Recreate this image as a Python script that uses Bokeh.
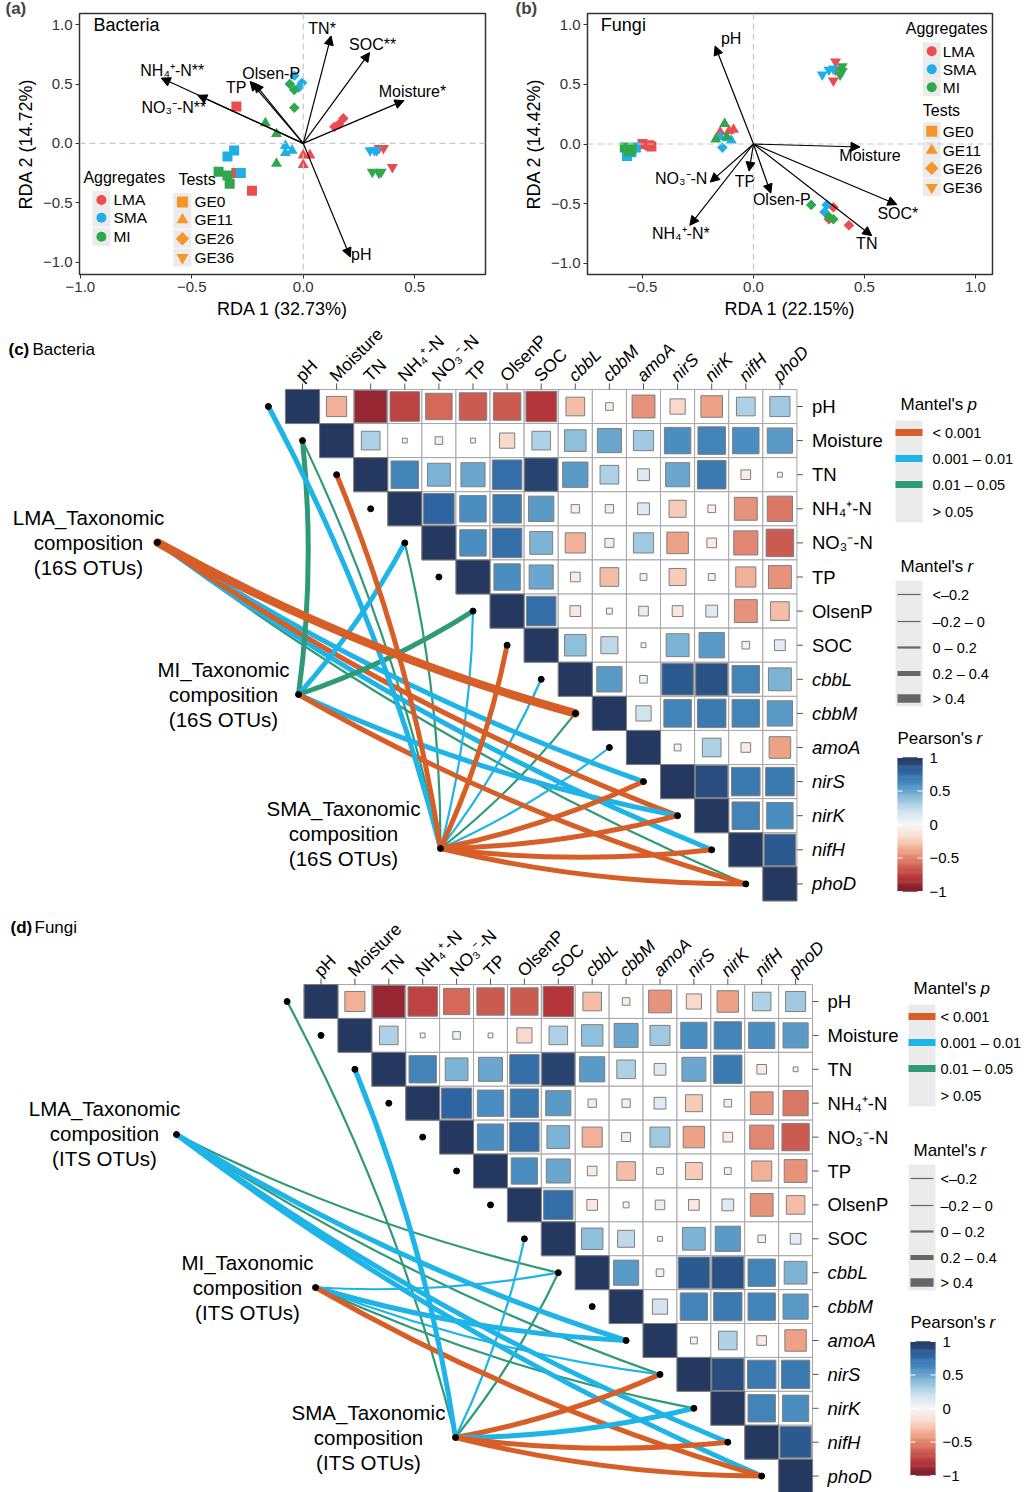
import numpy as np
from bokeh.plotting import figure
from bokeh.models import (ColumnDataSource, Range1d, Arrow, NormalHead,
                          LinearColorMapper, FixedTicker, Span)
from bokeh.layouts import column, row
from bokeh.transform import transform, factor_cmap, factor_mark
from bokeh.core.properties import value
from bokeh.embed import file_html
from bokeh.resources import INLINE

FONT = "Liberation Sans"

# ======================= DATA =======================
aggregates = ["LMA", "SMA", "MI"]
tests = ["GE0", "GE11", "GE26", "GE36"]
rda_agg = ["LMA"] * 12 + ["SMA"] * 12 + ["MI"] * 12
rda_test = (["GE0"] * 3 + ["GE11"] * 3 + ["GE26"] * 3 + ["GE36"] * 3) * 3

# (a) Bacteria RDA site scores
bac_x = [-0.30, -0.30, -0.23, 0.00, 0.03, 0.00, 0.14, 0.16, 0.18, 0.34, 0.36, 0.40,
         -0.31, -0.34, -0.28, -0.08, -0.08, -0.05, -0.04, -0.02, -0.005, 0.30, 0.32, 0.33,
         -0.38, -0.34, -0.33, -0.17, -0.12, -0.12, -0.06, -0.04, -0.04, 0.31, 0.34, 0.35]
bac_y = [0.31, -0.25, -0.40, -0.10, -0.10, -0.18, 0.14, 0.16, 0.21, -0.04, -0.04, -0.20,
         -0.06, -0.11, -0.25, -0.02, -0.08, -0.06, 0.57, 0.47, 0.51, -0.06, -0.06, -0.06,
         -0.24, -0.27, -0.34, 0.17, 0.08, -0.17, 0.50, 0.45, 0.30, -0.24, -0.25, -0.24]
bac_env_labels = ["TN*", "SOC**", "Moisture*", "pH", "NH₄⁺-N**", "NO₃⁻-N**", "TP", "Olsen-P"]
bac_env_x = [0.125, 0.298, 0.452, 0.211, -0.637, -0.473, -0.238, -0.220]
bac_env_y = [0.905, 0.765, 0.360, -0.958, 0.550, 0.405, 0.522, 0.508]

# (b) Fungi RDA site scores
fun_x = [-0.50, -0.47, -0.46, -0.15, -0.11, -0.09, 0.36, 0.34, 0.43, 0.37, 0.36, 0.37,
         -0.57, -0.53, -0.55, -0.15, -0.10, -0.12, -0.14, 0.33, 0.32, 0.31, 0.34, 0.36,
         -0.58, -0.56, -0.55, -0.13, -0.17, -0.12, 0.26, 0.34, 0.36, 0.40, 0.40, 0.39]
fun_y = [0.00, -0.01, -0.02, 0.10, 0.11, 0.12, -0.53, -0.63, -0.68, 0.69, 0.53, 0.62,
         -0.10, -0.03, -0.07, 0.06, 0.03, 0.05, -0.03, -0.51, -0.57, 0.58, 0.62, 0.63,
         -0.03, -0.06, -0.04, 0.17, 0.04, 0.06, -0.51, -0.61, -0.63, 0.65, 0.61, 0.58]
fun_env_labels = ["pH", "Moisture", "SOC*", "TN", "Olsen-P", "TP", "NO₃⁻-N", "NH₄⁺-N*"]
fun_env_x = [-0.173, 0.480, 0.646, 0.533, 0.078, -0.020, -0.195, -0.287]
fun_env_y = [0.821, -0.025, -0.507, -0.768, -0.412, -0.227, -0.319, -0.681]

# Pearson's r among environmental factors / genes (upper triangle, row by row)
env_vars = ["pH", "Moisture", "TN", "NH4", "NO3", "TP", "OlsenP", "SOC",
            "cbbL", "cbbM", "amoA", "nirS", "nirK", "nifH", "phoD"]
env_labels = ["pH", "Moisture", "TN", "NH₄⁺-N", "NO₃⁻-N", "TP", "OlsenP", "SOC",
              "cbbL", "cbbM", "amoA", "nirS", "nirK", "nifH", "phoD"]
r_pH = [-0.35, -0.90, -0.75, -0.60, -0.65, -0.65, -0.80, -0.30, -0.05, -0.45, -0.20, -0.40, 0.30, 0.35]
r_Moisture = [0.30, 0.02, 0.05, 0.02, -0.20, 0.30, 0.40, 0.50, 0.35, 0.60, 0.65, 0.60, 0.55]
r_TN = [0.65, 0.45, 0.50, 0.75, 0.95, 0.55, 0.30, 0.12, 0.50, 0.70, -0.08, 0.02]
r_NH4 = [0.80, 0.60, 0.70, 0.55, -0.06, 0.06, 0.12, -0.25, -0.05, -0.45, -0.55]
r_NO3 = [0.60, 0.75, 0.45, -0.35, 0.07, 0.35, -0.40, -0.08, -0.50, -0.65]
r_TP = [0.60, 0.50, -0.08, -0.30, 0.04, -0.25, -0.04, -0.35, -0.45]
r_OlsenP = [0.75, -0.10, -0.03, 0.08, -0.10, 0.12, -0.45, -0.30]
r_SOC = [0.40, 0.25, 0.02, 0.45, 0.55, 0.05, 0.10]
r_cbbL = [0.55, 0.05, 0.85, 0.88, 0.65, 0.45]
r_cbbM = [0.20, 0.65, 0.70, 0.65, 0.55]
r_amoA = [0.04, 0.30, -0.08, -0.40]
r_nirS = [0.90, 0.70, 0.70]
r_nirK = [0.65, 0.60]
r_nifH = [0.85]
r_rows = [r_pH, r_Moisture, r_TN, r_NH4, r_NO3, r_TP, r_OlsenP, r_SOC,
          r_cbbL, r_cbbM, r_amoA, r_nirS, r_nirK, r_nifH, []]

# Mantel tests (c) Bacteria
bac_mantel_spec = ["LMA", "LMA", "LMA", "LMA", "LMA",
                   "MI", "MI", "MI", "MI", "MI",
                   "SMA", "SMA", "SMA", "SMA", "SMA", "SMA", "SMA", "SMA", "SMA", "SMA", "SMA", "SMA", "SMA"]
bac_mantel_env = ["cbbM", "nirS", "nifH", "phoD", "nirK",
                  "Moisture", "NO3", "OlsenP", "nirK", "phoD",
                  "pH", "Moisture", "TN", "NO3", "OlsenP", "SOC", "cbbL", "cbbM", "amoA", "nirS", "nirK", "nifH", "phoD"]
bac_mantel_r = [0.48, 0.30, 0.32, 0.12, 0.25,
                0.30, 0.28, 0.30, 0.26, 0.30,
                0.30, 0.15, 0.33, 0.12, 0.14, 0.34, 0.12, 0.13, 0.11, 0.35, 0.36, 0.34, 0.35]
bac_mantel_p = [0.0005, 0.005, 0.005, 0.03, 0.0008,
                0.02, 0.005, 0.02, 0.005, 0.0005,
                0.004, 0.03, 0.0005, 0.03, 0.006, 0.0005, 0.007, 0.03, 0.008, 0.0005, 0.0005, 0.0005, 0.0005]

# Mantel tests (d) Fungi
fun_mantel_spec = ["LMA", "LMA", "LMA", "LMA", "LMA",
                   "MI", "MI", "MI", "MI", "MI",
                   "SMA", "SMA", "SMA", "SMA", "SMA", "SMA", "SMA", "SMA"]
fun_mantel_env = ["cbbL", "amoA", "nirS", "nifH", "phoD",
                  "cbbL", "amoA", "nirS", "nirK", "phoD",
                  "pH", "TN", "SOC", "cbbL", "nirS", "nirK", "nifH", "phoD"]
fun_mantel_r = [0.12, 0.30, 0.13, 0.30, 0.31,
                0.14, 0.30, 0.15, 0.12, 0.30,
                0.13, 0.30, 0.15, 0.12, 0.32, 0.30, 0.33, 0.34]
fun_mantel_p = [0.02, 0.004, 0.03, 0.005, 0.004,
                0.007, 0.003, 0.008, 0.03, 0.0005,
                0.03, 0.004, 0.006, 0.03, 0.0005, 0.004, 0.0005, 0.0005]

# ======================= STYLE =======================
AGG_COLORS = ["#EC4B4F", "#1FAFE6", "#2FA84C"]
TEST_ORANGE = "#F5962C"
MARKERS = ["square", "triangle", "square", "inverted_triangle"]
MARKER_SIZE = {"GE0": 10, "GE11": 11, "GE26": 7.5, "GE36": 11}
LEGEND_SIZE = {"GE0": 11, "GE11": 12, "GE26": 9.5, "GE36": 12}
MARKER_ANGLE = {"GE0": 0.0, "GE11": 0.0, "GE26": np.pi / 4, "GE36": 0.0}
P_COLORS = ["#D75F27", "#1FB4E8", "#2E9A77"]
P_LABELS = ["< 0.001", "0.001 – 0.01", "0.01 – 0.05", "> 0.05"]
R_LABELS = ["<–0.2", "–0.2 – 0", "0 – 0.2", "0.2 – 0.4", "> 0.4"]
R_WIDTHS = [1.2, 1.2, 2.2, 5.0, 8.5]
KEY_BG = "#EBEBEB"
CURV = 0.06

anchors = ["#7A1A2A", "#B5363A", "#D4695A", "#EEA286", "#F9D9C9", "#F7F7F7",
           "#D0E3EE", "#8FC0DC", "#4A8EC1", "#2D65A2", "#25385F"]


def _rgb(h):
    return tuple(int(h[i:i + 2], 16) for i in (1, 3, 5))


palette = []
for k in range(256):
    t = k / 255 * 10
    i = min(int(t), 9)
    f = t - i
    a, b = _rgb(anchors[i]), _rgb(anchors[i + 1])
    palette.append("#%02x%02x%02x" % tuple(int(round(a[j] + (b[j] - a[j]) * f)) for j in range(3)))
mapper = LinearColorMapper(palette=palette, low=-1, high=1)


def p_bin(pv):
    return 0 if pv < 0.001 else (1 if pv < 0.01 else (2 if pv < 0.05 else 3))


def r_bin(rv):
    return 0 if rv < -0.2 else (1 if rv < 0 else (2 if rv < 0.2 else (3 if rv < 0.4 else 4)))


# ======================= RDA PANELS =======================
def rda_panel(letter, letter_x, taxon, xs, ys, env_lab, env_x, env_y, lab_dx, lab_dy, geo, leg,
              xlabel, ylabel, xticks):
    (fig_w, ox, oy, sx, sy, xr, yr, borders) = geo
    p = figure(width=fig_w, height=324, x_range=Range1d(*xr), y_range=Range1d(*yr),
               output_backend="svg", toolbar_location=None,
               min_border_left=borders[0], min_border_right=borders[1],
               min_border_top=borders[2], min_border_bottom=borders[3])
    px = lambda v: (v - ox) / sx
    py = lambda v: (oy - v) / sy
    p.title.text = letter
    p.title.align = "left"
    p.title.offset = letter_x - borders[0]
    p.title.standoff = -9
    p.title.text_font = FONT
    p.title.text_font_size = "17px"
    p.title.text_font_style = "bold"
    p.xgrid.visible = False
    p.ygrid.visible = False
    p.outline_line_color = "#333333"
    p.outline_line_width = 1.5
    p.background_fill_color = "white"
    for ax in (p.xaxis[0], p.yaxis[0]):
        ax.axis_line_color = None
        ax.major_tick_line_color = "#333333"
        ax.major_tick_out = 4
        ax.major_tick_in = 0
        ax.minor_tick_line_color = None
        ax.major_label_text_font = FONT
        ax.major_label_text_font_size = "15px"
        ax.major_label_text_color = "#333333"
        ax.axis_label_text_font = FONT
        ax.axis_label_text_font_size = "18px"
        ax.axis_label_text_font_style = "normal"
        ax.axis_label_text_color = "black"
        ax.major_label_standoff = 3
        ax.axis_label_standoff = 4
    p.xaxis.ticker = FixedTicker(ticks=xticks)
    p.yaxis.ticker = FixedTicker(ticks=[-1.0, -0.5, 0.0, 0.5, 1.0])
    fmt = lambda v: ("%.1f" % v).replace("-", "−")
    p.xaxis.major_label_overrides = {float(v): fmt(v) for v in xticks}
    p.yaxis.major_label_overrides = {float(v): fmt(v) for v in [-1.0, -0.5, 0.0, 0.5, 1.0]}
    p.xaxis.axis_label = xlabel
    p.yaxis.axis_label = ylabel

    for dim in ("width", "height"):
        p.add_layout(Span(location=0, dimension=dim, line_color="#C8C8C8",
                          line_dash="6 4", line_width=1.2))

    src = ColumnDataSource(dict(x=xs, y=ys, agg=rda_agg, test=rda_test,
                                size=[MARKER_SIZE[t] for t in rda_test],
                                ang=[MARKER_ANGLE[t] for t in rda_test]))
    p.scatter("x", "y", source=src, size="size", angle="ang", line_color=None,
              fill_color=factor_cmap("agg", AGG_COLORS, aggregates),
              marker=factor_mark("test", MARKERS, tests))

    esrc = ColumnDataSource(dict(x0=[0] * len(env_x), y0=[0] * len(env_x), x1=env_x, y1=env_y,
                                 lab=env_lab, dx=lab_dx, dy=lab_dy))
    p.add_layout(Arrow(end=NormalHead(size=9, fill_color="black", line_color="black"),
                       x_start="x0", y_start="y0", x_end="x1", y_end="y1",
                       source=esrc, line_width=1.2, line_color="black"))
    p.text("x1", "y1", text="lab", x_offset="dx", y_offset="dy", source=esrc,
           text_align="center", text_baseline="middle", text_font=value(FONT),
           text_font_size="16px", text_color="black")

    p.text([px(leg["taxon"][0])], [py(leg["taxon"][1])], text=[taxon], text_align="left",
           text_baseline="middle", text_font=value(FONT), text_font_size="18px")

    ax_, ay_ = leg["agg_title"]
    p.text([px(ax_)], [py(ay_)], text=["Aggregates"], text_align="left", text_baseline="middle",
           text_font=value(FONT), text_font_size="16px")
    kx, lx, rows_y = leg["agg_key_x"], leg["agg_lab_x"], leg["agg_rows"]
    p.rect([px(kx)] * 3, [py(v) for v in rows_y], width=18, height=18, width_units="screen",
           height_units="screen", fill_color=KEY_BG, line_color=None)
    p.scatter([px(kx)] * 3, [py(v) for v in rows_y], size=10, marker="circle",
              fill_color=AGG_COLORS, line_color=None)
    p.text([px(lx)] * 3, [py(v) for v in rows_y], text=aggregates, text_align="left",
           text_baseline="middle", text_font=value(FONT), text_font_size="15.5px")
    tx_, ty_ = leg["test_title"]
    p.text([px(tx_)], [py(ty_)], text=["Tests"], text_align="left", text_baseline="middle",
           text_font=value(FONT), text_font_size="16px")
    kx, lx, rows_y = leg["test_key_x"], leg["test_lab_x"], leg["test_rows"]
    p.rect([px(kx)] * 4, [py(v) for v in rows_y], width=18, height=18, width_units="screen",
           height_units="screen", fill_color=KEY_BG, line_color=None)
    p.scatter([px(kx)] * 4, [py(v) for v in rows_y], size=[LEGEND_SIZE[t] for t in tests],
              angle=[MARKER_ANGLE[t] for t in tests],
              marker=MARKERS, fill_color=TEST_ORANGE, line_color=None)
    p.text([px(lx)] * 4, [py(v) for v in rows_y], text=tests, text_align="left",
           text_baseline="middle", text_font=value(FONT), text_font_size="15.5px")
    return p


pa = rda_panel("(a)", 5, "Bacteria", bac_x, bac_y, bac_env_labels, bac_env_x, bac_env_y,
               [-9, 3, 8.5, 11, 11, -24, -14, 17], [-7, -8, -9, -3, -8, 12, 6, -10],
               (513, 302.7, 144.0, 222.7, 119.5, (-1.004, 0.818), (-1.105, 1.094), (79, 28, 13, 48)),
               dict(taxon=(93, 25),
                    agg_title=(83, 178), agg_key_x=101, agg_lab_x=113, agg_rows=[201, 219, 238],
                    test_title=(178, 180), test_key_x=182, test_lab_x=194, test_rows=[203, 221, 240, 259]),
               "RDA 1 (32.73%)", "RDA 2 (14.72%)", [-1.0, -0.5, 0.0, 0.5])

pb = rda_panel("(b)", 2, "Fungi", fun_x, fun_y, fun_env_labels, fun_env_x, fun_env_y,
               [16, 10, 1, -5, 11, -4, -29, -9], [-7, 9, 9, 8, 6, 10, -4, 8],
               (514, 752.7, 143.7, 222.0, 119.2, (-0.748, 1.077), (-1.093, 1.093), (74, 35, 13, 50)),
               dict(taxon=(600, 25),
                    agg_title=(905, 28), agg_key_x=931, agg_lab_x=942, agg_rows=[51, 69, 87],
                    test_title=(922, 110), test_key_x=931, test_lab_x=942, test_rows=[131, 150, 168, 187]),
               "RDA 1 (22.15%)", "RDA 2 (14.42%)", [-0.5, 0.0, 0.5, 1.0])


# ======================= MANTEL / CORRELATION PANELS =======================
def heat_panel(letter, taxon, otu, m_spec, m_env, m_r, m_p, geo):
    x0, y0, cell, top, height, nodes_px, labels_px, Lx, Ty, lab_off, title_px = geo
    left, width = 0, 1027
    xs0 = (left - x0) / cell
    ye = -(top - y0) / cell
    p = figure(width=width, height=height,
               x_range=Range1d(xs0, xs0 + width / cell),
               y_range=Range1d(ye - height / cell, ye),
               output_backend="svg", toolbar_location=None,
               x_axis_location=None, y_axis_location=None, min_border=0)
    p.xgrid.visible = False
    p.ygrid.visible = False
    p.outline_line_color = None
    cx = lambda v: (v - x0) / cell
    cy = lambda v: -(v - y0) / cell
    n = len(env_vars)

    hx, hy, hr, hs = [], [], [], []
    for i in range(n):
        for j in range(i, n):
            rv = 1.0 if i == j else r_rows[i][j - i - 1]
            hx.append(j)
            hy.append(-i)
            hr.append(rv)
            hs.append(1.0 if i == j else float(np.sqrt(abs(rv))))
    hsrc = ColumnDataSource(dict(x=hx, y=hy, r=hr, s=hs))
    p.rect("x", "y", width=1, height=1, source=hsrc, fill_color="white",
           line_color="#A6A6A6", line_width=1)
    p.rect("x", "y", width="s", height="s", source=hsrc, fill_color=transform("r", mapper),
           line_color="#7F7F7F", line_width=1)

    idx = list(range(n))
    p.segment(idx, [0.5] * n, idx, [0.5 + 6 / cell] * n, line_color="#555555", line_width=1)
    p.segment([n - 0.5] * n, [-i for i in idx], [n - 0.5 + 6 / cell] * n, [-i for i in idx],
              line_color="#555555", line_width=1)
    normal = [i for i in idx if i < 8]
    ital = [i for i in idx if i >= 8]
    for sel, style in ((normal, "normal"), (ital, "italic")):
        p.text([i - 0.12 for i in sel], [0.5 + 11 / cell] * len(sel), text=[env_labels[i] for i in sel],
               angle=np.pi / 4, text_align="left", text_baseline="middle",
               text_font=value(FONT), text_font_size="17.5px", text_font_style=style)
        p.text([n - 0.5 + 15 / cell] * len(sel), [-i for i in sel], text=[env_labels[i] for i in sel],
               text_align="left", text_baseline="middle",
               text_font=value(FONT), text_font_size="18.5px", text_font_style=style)

    nodes = {k: (cx(v[0]), cy(v[1])) for k, v in nodes_px.items()}
    lx0, ly0, lx1, ly1, lcx, lcy, lcol, lw = [], [], [], [], [], [], [], []
    order = sorted(range(len(m_spec)), key=lambda k: R_WIDTHS[r_bin(m_r[k])])
    for k in order:
        a = nodes[m_spec[k]]
        e = env_vars.index(m_env[k])
        b = (e - 1.0, -float(e))
        dx, dy = b[0] - a[0], b[1] - a[1]
        lx0.append(a[0]); ly0.append(a[1]); lx1.append(b[0]); ly1.append(b[1])
        lcx.append((a[0] + b[0]) / 2 + CURV * dy)
        lcy.append((a[1] + b[1]) / 2 - CURV * dx)
        lcol.append(P_COLORS[p_bin(m_p[k])] if p_bin(m_p[k]) < 3 else "#DDDDDD")
        lw.append(R_WIDTHS[r_bin(m_r[k])])
    msrc = ColumnDataSource(dict(x0=lx0, y0=ly0, x1=lx1, y1=ly1, cx=lcx, cy=lcy, c=lcol, w=lw))
    p.quadratic(x0="x0", y0="y0", x1="x1", y1="y1", cx="cx", cy="cy", source=msrc,
                line_color="c", line_width="w", line_cap="round")

    p.scatter([i - 1.0 for i in idx], [-float(i) for i in idx], size=6, color="black")
    p.scatter([v[0] for v in nodes.values()], [v[1] for v in nodes.values()], size=6, color="black")

    for key in ["LMA", "MI", "SMA"]:
        lxp, lyp = labels_px[key]
        lines = [key + "_Taxonomic", "composition", "(" + otu + " OTUs)"]
        p.text([cx(lxp)] * 3, [cy(lyp + 24.8 * q) for q in range(3)], text=lines,
               text_align="center", text_baseline="middle", text_font=value(FONT),
               text_font_size="20.5px")

    p.text([cx(title_px[0])], [cy(title_px[1])], text=[letter], text_align="left",
           text_baseline="middle", text_font=value(FONT), text_font_size="17px",
           text_font_style="bold")
    p.text([cx(title_px[0] + 24)], [cy(title_px[1])], text=[taxon], text_align="left",
           text_baseline="middle", text_font=value(FONT), text_font_size="17px")

    # legend: Mantel's p
    kxc = cx(Lx + 13.5)
    labx = cx(Lx + lab_off)
    p.text([cx(Lx + 5)], [cy(Ty)], text=["Mantel's "], text_align="left", text_baseline="middle",
           text_font=value(FONT), text_font_size="17px")
    p.text([cx(Lx + 5 + 67)], [cy(Ty)], text=["p"], text_align="left", text_baseline="middle",
           text_font=value(FONT), text_font_size="17px", text_font_style="italic")
    p.rect([kxc], [cy(Ty + 67)], width=27 / cell, height=102 / cell, fill_color=KEY_BG, line_color=None)
    pk_y = [Ty + 28, Ty + 54, Ty + 80, Ty + 107]
    p.rect([kxc] * 3, [cy(v) for v in pk_y[:3]], width=27 / cell, height=7 / cell,
           fill_color=P_COLORS, line_color=None)
    p.text([labx] * 4, [cy(v) for v in pk_y], text=P_LABELS, text_align="left", text_baseline="middle",
           text_font=value(FONT), text_font_size="14.5px")

    # legend: Mantel's r
    p.text([cx(Lx + 5)], [cy(Ty + 162)], text=["Mantel's "], text_align="left", text_baseline="middle",
           text_font=value(FONT), text_font_size="17px")
    p.text([cx(Lx + 5 + 67)], [cy(Ty + 162)], text=["r"], text_align="left", text_baseline="middle",
           text_font=value(FONT), text_font_size="17px", text_font_style="italic")
    p.rect([kxc], [cy(Ty + 239)], width=27 / cell, height=126 / cell, fill_color=KEY_BG, line_color=None)
    rk_y = [Ty + 190, Ty + 217, Ty + 243, Ty + 269, Ty + 294]
    p.segment([cx(Lx + 2)] * 5, [cy(v) for v in rk_y], [cx(Lx + 25)] * 5, [cy(v) for v in rk_y],
              line_color="#666666", line_width=R_WIDTHS)
    p.text([labx] * 5, [cy(v) for v in rk_y], text=R_LABELS, text_align="left", text_baseline="middle",
           text_font=value(FONT), text_font_size="14.5px")

    # legend: Pearson's r colour bar
    p.text([cx(Lx + 2)], [cy(Ty + 334)], text=["Pearson's "], text_align="left", text_baseline="middle",
           text_font=value(FONT), text_font_size="17px")
    p.text([cx(Lx + 2 + 79)], [cy(Ty + 334)], text=["r"], text_align="left", text_baseline="middle",
           text_font=value(FONT), text_font_size="17px", text_font_style="italic")
    btop, bbot = Ty + 353, Ty + 487
    nseg = 120
    vals = list(np.linspace(-1, 1, nseg))
    bh = (bbot - btop) / nseg
    csrc = ColumnDataSource(dict(x=[cx(Lx + 14.5)] * nseg,
                                 y=[cy(bbot - (k + 0.5) * bh) for k in range(nseg)], v=vals))
    p.rect("x", "y", width=25 / cell, height=(bh + 0.5) / cell, source=csrc,
           fill_color=transform("v", mapper), line_color=None)
    tick_vals = [1, 0.5, 0, -0.5, -1]
    tick_y = [cy(bbot - (tv + 1) / 2 * (bbot - btop)) for tv in tick_vals]
    p.segment([cx(Lx + 2)] * 5, tick_y, [cx(Lx + 7)] * 5, tick_y, line_color="white", line_width=1)
    p.segment([cx(Lx + 22)] * 5, tick_y, [cx(Lx + 27)] * 5, tick_y, line_color="white", line_width=1)
    p.text([cx(Lx + 34)] * 5, tick_y, text=["1", "0.5", "0", "−0.5", "−1"], text_align="left",
           text_baseline="middle", text_font=value(FONT), text_font_size="15px")
    return p


pc = heat_panel("(c)", "Bacteria", "16S", bac_mantel_spec, bac_mantel_env, bac_mantel_r, bac_mantel_p,
                (302.0, 406.0, 34.1, 324, 585,
                 {"LMA": (157, 542), "MI": (298, 694), "SMA": (440, 848)},
                 {"LMA": (88, 517), "MI": (223, 669), "SMA": (343, 808)},
                 895, 404, 37, (8, 349)))

pd_ = heat_panel("(d)", "Fungi", "ITS", fun_mantel_spec, fun_mantel_env, fun_mantel_r, fun_mantel_p,
                 (320.5, 1001.0, 33.9, 909, 583,
                  {"LMA": (176, 1134), "MI": (315, 1287), "SMA": (455, 1437)},
                  {"LMA": (104, 1108), "MI": (247, 1262), "SMA": (368, 1412)},
                  908, 988, 32, (10, 927)))

layout = column(row(pa, pb), pc, pd_)
open("out.html", "w").write(file_html(layout, INLINE))
